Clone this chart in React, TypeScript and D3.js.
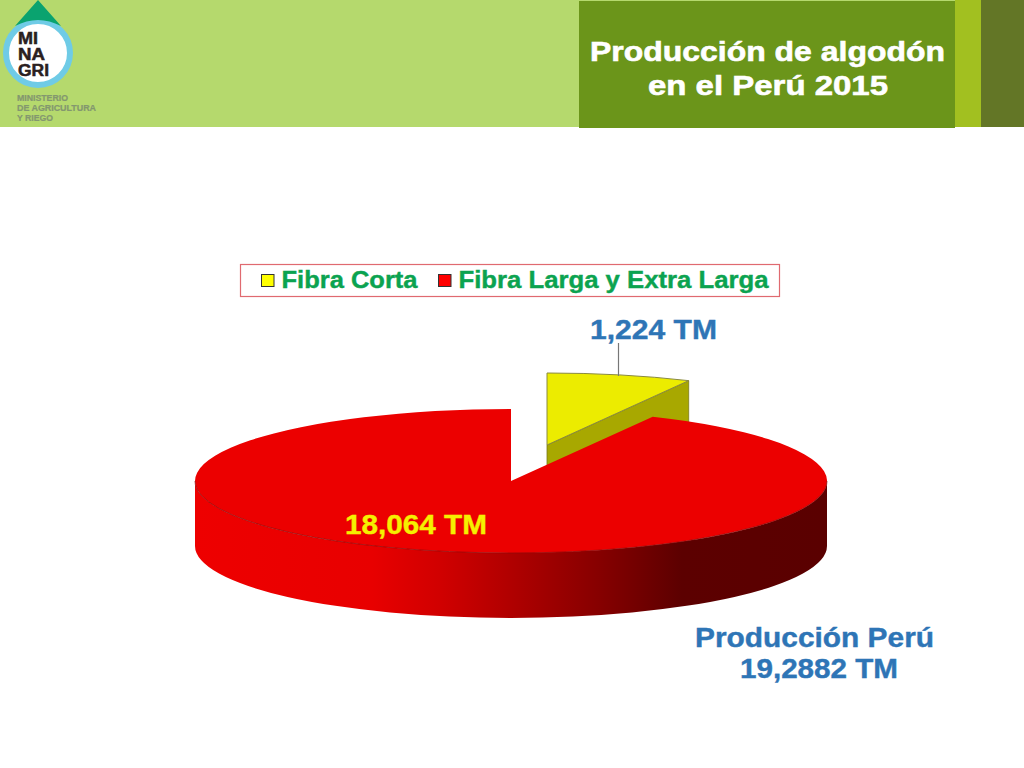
import React, { useRef, useEffect } from 'react'
import * as d3 from 'd3'

const categories = ['Fibra Corta', 'Fibra Larga y Extra Larga']
const sliceShares = [7.4, 92.6]
const sliceLabels = ['1,224 TM', '18,064 TM']
const topColors = ['#ecec00', '#ec0000']
const legendColors = ['#ffff00', '#ff0000']
const titleLines = ['Producción de algodón', 'en el Perú 2015']
const totalLines = ['Producción Perú', '19,2882 TM']
const logoLines = ['MI', 'NA', 'GRI']
const ministryLines = ['MINISTERIO', 'DE AGRICULTURA', 'Y RIEGO']
const wallStops = ['#ee0000', '#e80000', '#d00000', '#b00000', '#860000', '#5c0000', '#5a0000']
const wallOffsets = [0, 0.28, 0.39, 0.5, 0.64, 0.77, 1]

const WIDTH = 1024
const HEIGHT = 768
const SANS = '"Liberation Sans", Arial, sans-serif'

export default function App() {
  const svgRef = useRef<SVGSVGElement | null>(null)

  useEffect(() => {
    if (!svgRef.current) return
    const svg = d3.select(svgRef.current)
    svg.selectAll('*').remove()

    // the slide's type is a stretched bold sans, so every string gets its measured width
    const label = (
      parent: d3.Selection<any, any, any, any>,
      text: string,
      x: number,
      y: number,
      length: number,
      size: number,
      fill: string,
      heavy = 0.4
    ) =>
      parent.append('text')
        .attr('x', x)
        .attr('y', y)
        .attr('textLength', length)
        .attr('lengthAdjust', 'spacingAndGlyphs')
        .attr('fill', fill)
        .attr('stroke', fill)
        .attr('stroke-width', heavy)
        .style('font-family', SANS)
        .style('font-weight', 700)
        .style('font-size', `${size}px`)
        .text(text)

    // header band
    const header = svg.append('g')
    header.append('rect').attr('width', WIDTH).attr('height', 127).attr('fill', '#b5d96d')
    header.append('rect').attr('x', 579).attr('y', 1).attr('width', 376).attr('height', 127).attr('fill', '#6b951a')
    header.append('rect').attr('x', 955).attr('y', 0).attr('width', 26).attr('height', 127).attr('fill', '#a2c020')
    header.append('rect').attr('x', 981).attr('y', 0).attr('width', 43).attr('height', 127).attr('fill', '#637626')

    label(header, titleLines[0], 590, 60.5, 355, 28, '#fff', 0.6)
    label(header, titleLines[1], 648, 94.5, 240, 28, '#fff', 0.6)

    // logo
    const logo = svg.append('g')
    logo.append('circle').attr('cx', 38).attr('cy', 53).attr('r', 32).attr('fill', '#fff').attr('stroke', '#6fcbe6').attr('stroke-width', 6)
    logo.append('path').attr('d', 'M38 0 L61 26 Q38 14 15 26 Z').attr('fill', '#0aa36f')
    const logoWidths = [20, 27, 31]
    logoLines.forEach((d, i) => label(logo, d, 18, 43.5 + i * 16, logoWidths[i], 16, '#2a2020', 0.5))
    const ministryWidths = [51, 79, 36]
    ministryLines.forEach((d, i) => label(logo, d, 17, 101 + i * 9.8, ministryWidths[i], 8.5, '#83976f', 0.2))

    // legend
    const legend = svg.append('g')
    legend.append('rect').attr('x', 240.5).attr('y', 264.5).attr('width', 539).attr('height', 32).attr('fill', '#fff').attr('stroke', '#e06a70').attr('stroke-width', 1.2)
    const legendX = [261, 438]
    const legendWidths = [136, 310]
    categories.forEach((name, i) => {
      legend.append('rect').attr('x', legendX[i] + 0.5).attr('y', 274.5).attr('width', 12.5).attr('height', 12).attr('fill', legendColors[i]).attr('stroke', '#333').attr('stroke-width', 1)
      label(legend, name, legendX[i] + 20.5, 288, legendWidths[i], 24, '#0ba350')
    })

    // 3d pie
    const cx = 511
    const cy = 481
    const rx = 316
    const ry = 72
    const depth = 65
    const explode = { x: 36, y: -36 }
    const squash = ry / rx

    const pie = d3.pie<number>().sort(null)
    const arcs = pie(sliceShares)
    const arc = d3.arc<d3.PieArcDatum<number>>().innerRadius(0).outerRadius(rx)
    const rimX = (a: number) => rx * Math.sin(a)
    const rimY = (a: number) => -ry * Math.cos(a)

    const defs = svg.append('defs')
    const grad = defs.append('linearGradient').attr('id', 'wall').attr('x1', 0).attr('x2', 1).attr('y1', 0).attr('y2', 0)
    wallStops.forEach((c, i) => grad.append('stop').attr('offset', wallOffsets[i]).attr('stop-color', c))

    const chart = svg.append('g').attr('transform', `translate(${cx},${cy})`)

    // small slice first, the large one sits over it
    const small = arcs[0]
    const smallG = chart.append('g').attr('transform', `translate(${explode.x},${explode.y})`)
    const sx = rimX(small.endAngle)
    const sy = rimY(small.endAngle)
    smallG.append('path')
      .attr('d', `M0 0 L${sx} ${sy} L${sx} ${sy + depth} L0 ${depth} Z`)
      .attr('fill', '#a8a800')
      .attr('stroke', '#77771a')
      .attr('stroke-width', 0.8)
    smallG.append('path')
      .attr('d', arc(small))
      .attr('transform', `scale(1,${squash})`)
      .attr('fill', topColors[0])
      .attr('stroke', '#8a8a40')
      .attr('stroke-width', 1)
      .attr('vector-effect', 'non-scaling-stroke')

    // large slice wall, front half of the rim
    const wall = `M${-rx} 0 A${rx} ${ry} 0 0 0 ${rx} 0 L${rx} ${depth} A${rx} ${ry} 0 0 1 ${-rx} ${depth} Z`
    chart.append('path').attr('d', wall).attr('fill', 'url(#wall)')

    const big = arcs[1]
    chart.append('path')
      .attr('d', arc(big))
      .attr('transform', `scale(1,${squash})`)
      .attr('fill', topColors[1])
    chart.append('path')
      .attr('d', `M${-rx} 0 A${rx} ${ry} 0 0 0 ${rx} 0`)
      .attr('fill', 'none')
      .attr('stroke', '#8a0a0a')
      .attr('stroke-width', 0.7)

    // leader line and labels
    svg.append('line').attr('x1', 618.5).attr('x2', 618.5).attr('y1', 343).attr('y2', 376).attr('stroke', '#777').attr('stroke-width', 1.2)
    label(svg, sliceLabels[0], 590, 339, 127, 28, '#2e75b6')
    label(svg, sliceLabels[1], 345, 534, 142, 28, '#f5f000')
    label(svg, totalLines[0], 695, 647, 239, 28, '#2e75b6')
    label(svg, totalLines[1], 740, 678, 158, 28, '#2e75b6')
  }, [])

  return (
    <svg
      ref={svgRef}
      width={WIDTH}
      height={HEIGHT}
      style={{ position: 'absolute', left: 0, top: 0, background: '#fff' }}
    />
  )
}
